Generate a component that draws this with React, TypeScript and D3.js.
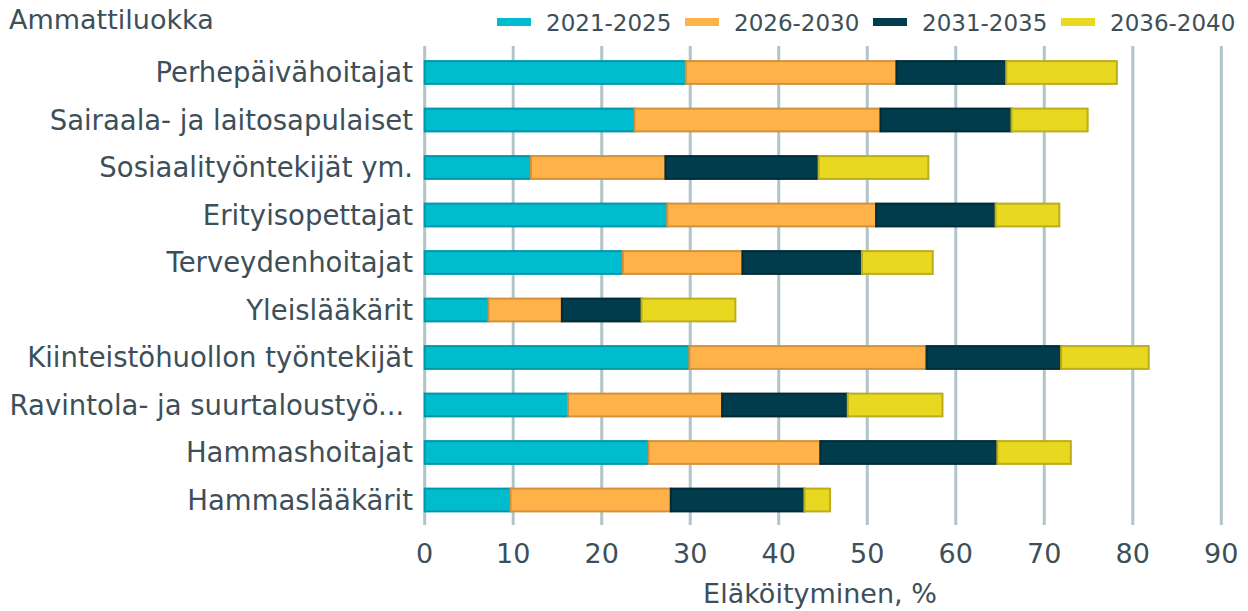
import * as d3 from 'd3';

const categories = [
  'Perhepäivähoitajat',
  'Sairaala- ja laitosapulaiset',
  'Sosiaalityöntekijät ym.',
  'Erityisopettajat',
  'Terveydenhoitajat',
  'Yleislääkärit',
  'Kiinteistöhuollon työntekijät',
  'Ravintola- ja suurtaloustyö... ',
  'Hammashoitajat',
  'Hammaslääkärit',
];

const seriesNames = ['2021-2025', '2026-2030', '2031-2035', '2036-2040'];

const v2021 = [29.5, 23.7, 12.0, 27.4, 22.4, 7.2, 29.9, 16.2, 25.3, 9.7];
const v2026 = [23.8, 27.8, 15.2, 23.6, 13.5, 8.3, 26.8, 17.4, 19.4, 18.1];
const v2031 = [12.4, 14.8, 17.3, 13.5, 13.5, 9.0, 15.2, 14.2, 20.0, 15.1];
const v2036 = [12.5, 8.6, 12.4, 7.2, 8.0, 10.6, 9.9, 10.7, 8.3, 2.9];

const xTicks = [0, 10, 20, 30, 40, 50, 60, 70, 80, 90];

const fills = ['#00bccf', '#ffb24a', '#003c4c', '#e8d820'];
const strokes = ['#0098a8', '#d4913c', '#002b37', '#bcad1c'];

const W = 1248;
const H = 611;
const textColor = '#3d4f59';
const font = 'DejaVu Sans, Verdana, sans-serif';

export default function App() {
  const rows = categories.map((c, i) => ({
    cat: c,
    '2021-2025': v2021[i],
    '2026-2030': v2026[i],
    '2031-2035': v2031[i],
    '2036-2040': v2036[i],
  }));
  const stacked = d3.stack<any>().keys(seriesNames)(rows);

  const x = d3.scaleLinear().domain([0, 90]).range([424.7, 1221.3]);
  const y = d3
    .scaleBand()
    .domain(categories)
    .range([48.75, 523.75])
    .paddingInner(0.52)
    .paddingOuter(0.26);

  return (
    <svg
      width={W}
      height={H}
      style={{ position: 'absolute', left: 0, top: 0, fontFamily: font }}
    >
      <rect width={W} height={H} fill="#ffffff" />
      {xTicks.map((t) => (
        <g key={t}>
          <line x1={x(t)} x2={x(t)} y1={46} y2={525} stroke="#b0c5ca" strokeWidth={3} />
          <text x={x(t)} y={563} textAnchor="middle" fontSize={27} fill={textColor}>
            {t}
          </text>
        </g>
      ))}
      {stacked.map((s, si) => (
        <g key={s.key}>
          {s.map((d, i) => (
            <rect
              key={i}
              x={x(d[0])}
              y={(y(categories[i]) as number)}
              width={x(d[1]) - x(d[0])}
              height={y.bandwidth()}
              fill={fills[si]}
              stroke={strokes[si]}
              strokeWidth={2}
            />
          ))}
        </g>
      ))}
      {categories.map((c) => (
        <text
          key={c}
          x={413}
          y={(y(c) as number) + y.bandwidth() / 2}
          dy="0.35em"
          textAnchor="end"
          fontSize={27.5}
          fill={textColor}
          xmlSpace="preserve"
          style={{ whiteSpace: 'pre' }}
        >
          {c}
        </text>
      ))}
      <text x={9} y={29} fontSize={27} fill={textColor}>
        Ammattiluokka
      </text>
      {seriesNames.map((n, i) => (
        <g key={n} transform={`translate(${497 + i * 188},0)`}>
          <rect x={0} y={18} width={34} height={8} fill={fills[i]} />
          <text x={49} y={31} fontSize={23} fill={textColor}>
            {n}
          </text>
        </g>
      ))}
      <text x={820} y={603} textAnchor="middle" fontSize={27} fill={textColor}>
        Eläköityminen, %
      </text>
    </svg>
  );
}
